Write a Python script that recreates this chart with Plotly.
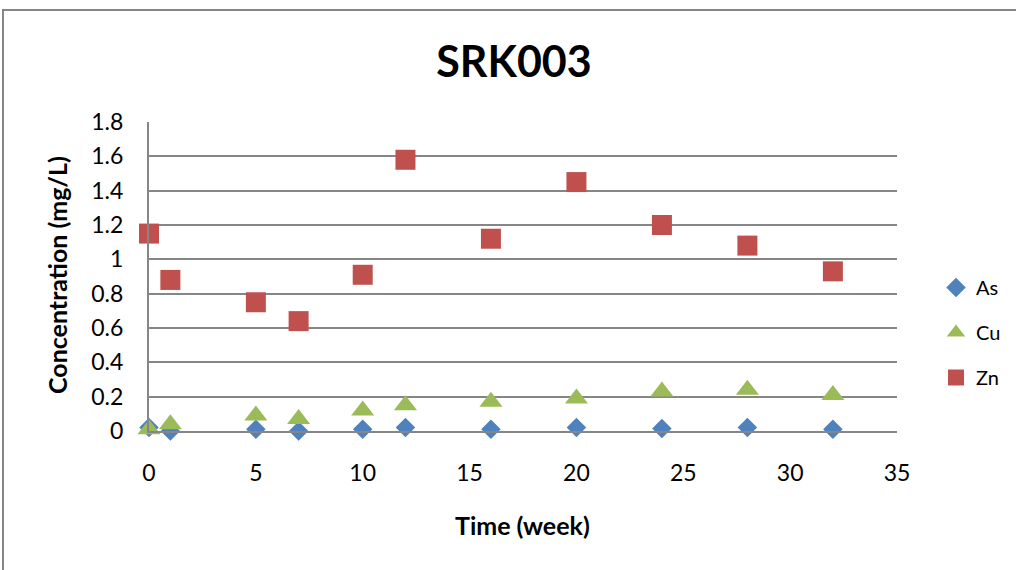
import plotly.graph_objects as go

weeks = [0, 1, 5, 7, 10, 12, 16, 20, 24, 28, 32]
as_vals = [0.02, 0.0, 0.01, 0.0, 0.01, 0.02, 0.01, 0.02, 0.015, 0.02, 0.01]
cu_vals = [0.01, 0.04, 0.09, 0.07, 0.12, 0.15, 0.17, 0.19, 0.23, 0.24, 0.21]
zn_vals = [1.15, 0.88, 0.75, 0.64, 0.91, 1.58, 1.12, 1.45, 1.20, 1.08, 0.93]

FONT = "Lato"

L, R, T, B = 149, 897, 122, 431
PW, PH = R - L, B - T


def px_to_paper(px, py):
    return (px - L) / PW, (B - py) / PH


fig = go.Figure()
fig.add_trace(go.Scatter(x=weeks, y=as_vals, mode="markers", name="As", legendgroup="a",
                         marker=dict(symbol="diamond", size=15, color="#4F81BD"), cliponaxis=False))
fig.add_trace(go.Scatter(x=weeks, y=cu_vals, mode="markers", name="Cu", legendgroup="b",
                         marker=dict(symbol="triangle-up", size=20, color="#9BBB59"), cliponaxis=False))
fig.add_trace(go.Scatter(x=weeks, y=zn_vals, mode="markers", name="Zn", legendgroup="c",
                         marker=dict(symbol="square", size=20, color="#C0504D"), cliponaxis=False))

lx, ly = px_to_paper(936, 268)
ax, ay = px_to_paper(57, 275)
bx, by = px_to_paper(522, 525)
sx0, sy1 = px_to_paper(3, 10)

fig.update_layout(
    width=1016, height=570,
    margin=dict(l=L, r=1016 - R, t=T, b=570 - B, autoexpand=False),
    paper_bgcolor="white", plot_bgcolor="white",
    font=dict(family=FONT, size=22, color="black"),
    title=dict(text="<b>SRK003</b>", font=dict(family=FONT, size=43, color="black"),
               x=514 / 1016, xref="container", xanchor="center",
               y=1 - 62 / 570, yref="container", yanchor="middle"),
    showlegend=True,
    legend=dict(x=lx, xanchor="left", y=ly, yanchor="top",
                font=dict(family=FONT, size=20), tracegroupgap=16, itemwidth=30,
                bgcolor="rgba(0,0,0,0)"),
    xaxis=dict(range=[0, 35], dtick=5, tick0=0, showgrid=False, zeroline=False,
               showline=True, linecolor="#868686", linewidth=2, ticks="",
               ticklabelstandoff=20, tickfont=dict(size=23)),
    yaxis=dict(range=[0, 1.8], dtick=0.2, tick0=0, showgrid=True, gridcolor="#868686", gridwidth=1.5,
               zeroline=False, showline=True, linecolor="#868686", linewidth=2, ticks="",
               ticklabelstandoff=19, tickfont=dict(size=23)),
    annotations=[
        dict(text="<b>Concentration (mg/L)</b>", x=ax, y=ay, xref="paper", yref="paper",
             xanchor="center", yanchor="middle",
             showarrow=False, textangle=-90, font=dict(size=25)),
        dict(text="<b>Time (week)</b>", x=bx, y=by, xref="paper", yref="paper",
             xanchor="center", yanchor="middle",
             showarrow=False, font=dict(size=25)),
    ],
    shapes=[dict(type="rect", xref="paper", yref="paper",
                 x0=sx0, x1=1.5, y0=-1.0, y1=sy1,
                 line=dict(color="#868686", width=2), fillcolor="rgba(0,0,0,0)", layer="below")],
)

fig.write_html("out.html")
